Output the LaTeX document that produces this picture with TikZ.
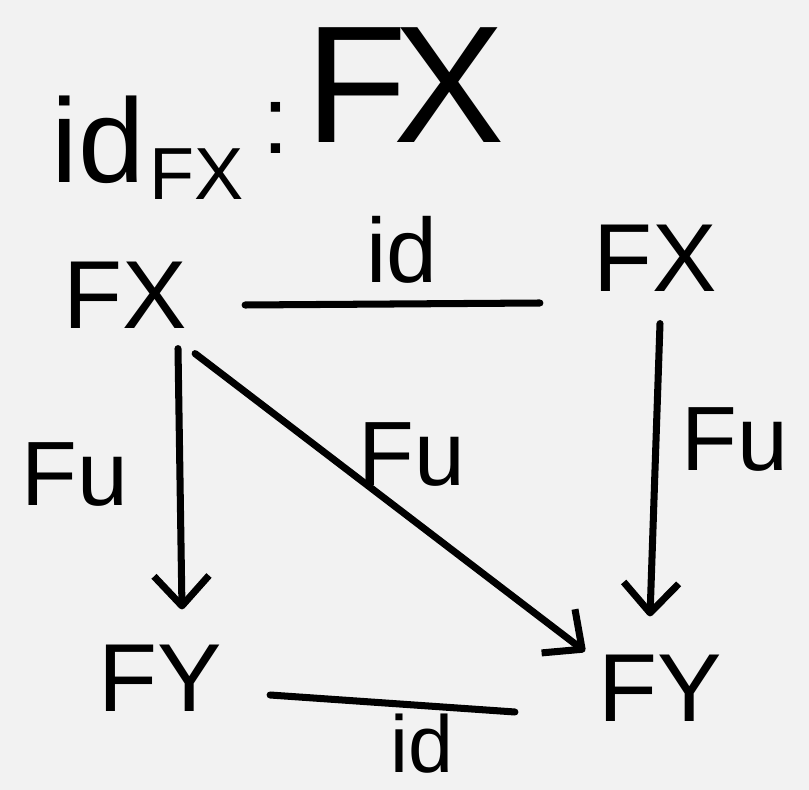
\documentclass[tikz,border=0pt]{standalone}
\usepackage{fontspec}
\setmainfont{Liberation Sans}
\usetikzlibrary{arrows.meta}
\definecolor{paper}{HTML}{F2F2F2}

\begin{document}
\begin{tikzpicture}[
    x=0.02cm, y=-0.02cm,
    obj/.style={inner sep=0pt, font=\fontsize{55}{55}\selectfont},
    lbl/.style={inner sep=0pt, font=\fontsize{52}{52}\selectfont},
    stroke/.style={line width=4pt, line cap=round},
    arr/.style={stroke, -{Straight Barb[length=0.6cm, width=1.1cm, line join=round]}}
  ]
    \fill[paper] (0,0) rectangle (809,790);
    \useasboundingbox (0,0) rectangle (809,790);

    % heading
    \node[inner sep=0pt, font=\fontsize{68}{68}\selectfont] (idname) at (98,140) {id};
    \node[inner sep=0pt, anchor=west, font=\fontsize{42}{42}\selectfont] (idsub) at ([shift={(4,34)}]idname.east) {FX};
    \node[obj] (colon) at (276,128) {:};
    \node[inner sep=0pt, font=\fontsize{95}{95}\selectfont] (bigfx) at (405,85) {F\kern-0.08em X};

    % square
    \node[obj] (tl) at (125,295) {FX};
    \node[obj] (tr) at (655,258) {FX};
    \node[obj] (bl) at (160,678) {FY};
    \node[obj] (br) at (660,688) {FY};

    \draw[stroke] ([shift={(58,10)}]tl.east) -- ([shift={(-53,45)}]tr.west);
    \draw[stroke] ([shift={(48,17)}]bl.east) -- ([shift={(-83,24)}]br.west);
    \draw[arr] ([shift={(53,20)}]tl.south) -- ([shift={(22,-35)}]bl.north);
    \draw[arr] ([shift={(5,32)}]tr.south) -- ([shift={(-10,-38)}]br.north);
    \draw[arr] ([shift={(8,25)}]tl.south east) -- ([shift={(-13,-3)}]br.north west);

    % labels
    \node[lbl] (idtop) at (402,250) {id};
    \node[lbl, font=\fontsize{46}{46}\selectfont] (idbot) at (422,744) {id};
    \node[lbl] (fuleft) at (75,475) {Fu};
    \node[lbl] (fudiag) at (412,455) {Fu};
    \node[lbl] (furight) at (735,440) {Fu};
  \end{tikzpicture}
\end{document}
